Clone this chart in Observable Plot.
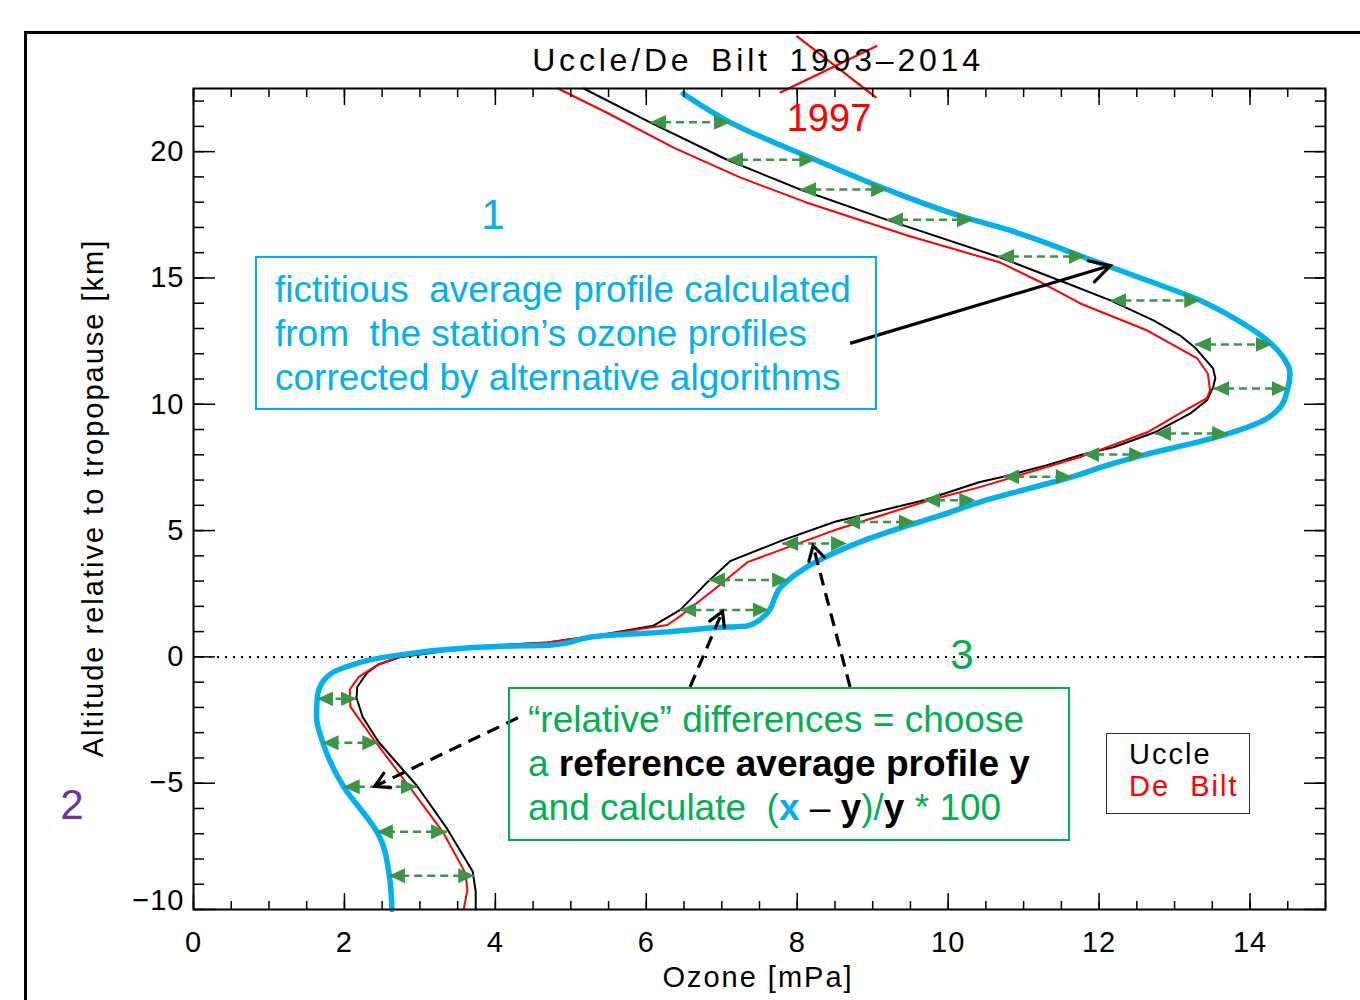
<!DOCTYPE html>
<html><head><meta charset="utf-8">
<script src="https://cdn.jsdelivr.net/npm/d3@7"></script>
<script src="https://cdn.jsdelivr.net/npm/@observablehq/plot@0.6"></script>
<style>
html,body{margin:0;padding:0;background:#fff;}
#wrap{position:relative;width:1360px;height:1000px;overflow:hidden;font-family:"Liberation Sans",Arial,sans-serif;}
#wrap svg{position:absolute;left:0;top:0;}
#wrap svg text{letter-spacing:1px;}
.abs{position:absolute;white-space:nowrap;}
.ctr{transform:translate(-50%,-50%);}
.idl{font-family:"Liberation Sans",Arial,sans-serif;font-size:29px;letter-spacing:2px;color:#000;}
.box{position:absolute;box-sizing:border-box;white-space:nowrap;font-family:"Liberation Sans",Arial,sans-serif;font-size:37px;line-height:44px;}
#outer{position:absolute;left:24px;top:31px;width:1400px;height:1000px;border-top:3px solid #000;border-left:3px solid #000;}
</style></head>
<body><div id="wrap"><div id="outer"></div></div>
<script>
// ---- data ----
const uccleAlt   = [-10, -9.3, -8.5, -6.8, -5.1, -4.35, -3.36, -2.37, -1.62, -1.19, -0.63, -0.3, 0, 0.2, 0.42, 0.47, 0.57, 0.87, 1.23, 1.86, 2.96, 3.79, 4.62, 5.35, 6.2, 6.92, 7.13, 7.59, 8.02, 8.3, 8.89, 9.64, 10.16, 10.67, 11.03, 11.42, 12.25, 12.73, 13.32, 14.11, 14.78, 15.81, 17.3, 18.5, 19.68, 21.16, 22.5];
const uccleOzone = [3.74, 3.74, 3.70, 3.36, 2.96, 2.74, 2.45, 2.24, 2.16, 2.17, 2.30, 2.45, 2.75, 3.27, 3.76, 4.07, 4.69, 5.39, 6.09, 6.45, 6.81, 7.11, 7.81, 8.5, 9.68, 10.42, 10.73, 11.31, 11.79, 12.19, 12.74, 13.21, 13.43, 13.51, 13.54, 13.51, 13.27, 13.07, 12.72, 12.15, 11.58, 10.69, 9.19, 8.04, 7.07, 6.05, 5.17];

const deBiltAlt   = [-10, -9.21, -8.54, -6.96, -5.18, -3.28, -1.98, -1.30, -0.79, -0.3, 0, 0.2, 0.45, 0.57, 0.87, 1.26, 1.66, 2.77, 3.75, 5.0, 6.2, 6.72, 7.91, 8.89, 9.64, 10.24, 10.55, 11.22, 11.82, 12.92, 13.99, 14.9, 15.61, 16.68, 17.98, 18.97, 20.16, 21.54, 22.5];
const deBiltOzone = [3.58, 3.63, 3.60, 3.31, 2.87, 2.39, 2.08, 2.07, 2.19, 2.45, 2.72, 3.2, 4.0, 4.69, 5.39, 6.28, 6.47, 6.94, 7.34, 8.48, 9.75, 10.42, 11.75, 12.64, 13.07, 13.43, 13.47, 13.44, 13.30, 12.64, 11.75, 11.18, 10.69, 9.46, 8.13, 7.25, 6.36, 5.48, 4.83];

const fictAlt   = [-10, -8.54, -6.92, -6.52, -5.14, -3.36, -2.37, -1.62, -0.91, -0.43, 0.08, 0.3, 0.42, 0.47, 0.83, 0.99, 1.15, 1.23, 1.58, 2.85, 3.56, 4.1, 4.66, 5.1, 5.6, 6.13, 6.68, 7.13, 7.66, 8.01, 8.46, 8.84, 9.29, 9.88, 10.62, 11.22, 11.86, 12.37, 13.44, 14.11, 14.9, 15.81, 17.0, 17.3, 18.5, 19.68, 21.16, 22.29];
const fictOzone = [2.63, 2.59, 2.43, 2.34, 1.99, 1.71, 1.63, 1.64, 1.73, 1.99, 2.74, 3.4, 4.1, 4.75, 5.39, 6.28, 6.89, 7.34, 7.55, 7.81, 8.13, 8.48, 8.93, 9.36, 9.9, 10.42, 11.09, 11.64, 12.19, 12.61, 13.25, 13.71, 14.13, 14.40, 14.50, 14.53, 14.44, 14.29, 13.77, 13.34, 12.64, 11.81, 10.69, 10.33, 9.19, 8.24, 7.11, 6.49];

// green double arrows between the Uccle profile and the fictitious profile
const diffAlt  = [21.16, 19.68, 18.50, 17.30, 15.85, 14.11, 12.37, 10.62, 8.84, 8.01, 7.13, 6.2, 5.34, 4.49, 3.04, 1.86, -1.66, -3.40, -5.14, -6.92, -8.66];
const diffFrom = [6.05, 7.07, 8.04, 9.19, 10.66, 12.15, 13.27, 13.51, 12.74, 11.79, 10.73, 9.68, 8.62, 7.80, 6.83, 6.45, 2.16, 2.45, 2.96, 3.36, 3.72];
const diffTo   = [7.11, 8.24, 9.19, 10.33, 11.81, 13.34, 14.29, 14.50, 13.71, 12.61, 11.64, 10.36, 9.56, 8.66, 7.88, 7.62, 1.64, 1.71, 1.99, 2.43, 2.59];

// ticks
const xMajor = [0, 2, 4, 6, 8, 10, 12, 14];
const xMinor = d3.range(0, 15.01, 0.5);
const yMajor = [-10, -5, 0, 5, 10, 15, 20];
const yMinor = d3.range(-10, 22.01, 1);
const yLabelsMain = [-5, 0, 5, 10, 15, 20];
const yLabelsBottom = [-10];

// annotation pointers (data coordinates)
const dashedPointers = [
  {x1: 6.58, y1: -1.19, x2: 7.01, y2: 1.80},
  {x1: 8.70, y1: -1.19, x2: 8.21, y2: 4.40},
  {x1: 4.30, y1: -2.41, x2: 2.40, y2: -5.13}
];
const solidPointer = [{x1: 8.70, y1: 12.41, x2: 12.15, y2: 15.49}];
const crossOut = [
  {x1: 7.99, y1: 24.58, x2: 9.05, y2: 22.13},
  {x1: 7.77, y1: 22.33, x2: 9.06, y2: 24.19}
];

// ---- build ----
const toRows = (alt, oz) => alt.map((h, i) => ({h, o: oz[i]}));
const uccle = toRows(uccleAlt, uccleOzone);
const deBilt = toRows(deBiltAlt, deBiltOzone);
const fict = toRows(fictAlt, fictOzone);
const diffs = diffAlt.map((h, i) => ({h, a: diffFrom[i], b: diffTo[i]}));

const GREEN = "#3a9545";
const BLUE = "#00b0f0";
const blank = () => "";

const chart = Plot.plot({
  width: 1360, height: 1000,
  marginLeft: 193, marginRight: 35, marginTop: 88, marginBottom: 91,
  x: {domain: [0, 15], axis: null},
  y: {domain: [-10, 22.5], axis: null},
  style: {fontFamily: "Liberation Sans, Arial, sans-serif", fontSize: "29px", background: "transparent", overflow: "visible"},
  marks: [
    Plot.ruleY([0], {stroke: "#000", strokeWidth: 2, strokeDasharray: "2,6"}),
    Plot.line(uccle, {x: "o", y: "h", stroke: "#000", strokeWidth: 2}),
    Plot.line(deBilt, {x: "o", y: "h", stroke: "#ff0000", strokeWidth: 2}),
    Plot.line(fict, {x: "o", y: "h", stroke: BLUE, strokeWidth: 5.5, curve: "monotone-y"}),
    Plot.link(diffs, {x1: "a", x2: "b", y1: "h", y2: "h", stroke: GREEN, strokeWidth: 2.5, strokeDasharray: "8,5"}),
    Plot.link(dashedPointers, {x1: "x1", y1: "y1", x2: "x2", y2: "y2", stroke: "#000", strokeWidth: 3.2, strokeDasharray: "13,8"}),
    Plot.link(solidPointer, {x1: "x1", y1: "y1", x2: "x2", y2: "y2", stroke: "#000", strokeWidth: 3.2}),
    Plot.link(crossOut, {x1: "x1", y1: "y1", x2: "x2", y2: "y2", stroke: "#ff0000", strokeWidth: 2.2}),
    Plot.frame({stroke: "#000", strokeWidth: 2}),
    Plot.axisX(xMajor, {anchor: "bottom", tickSize: -16, tickFormat: blank, strokeWidth: 1.5, label: null}),
    Plot.axisX(xMinor, {anchor: "bottom", tickSize: -8, tickFormat: blank, strokeWidth: 1.5, label: null}),
    Plot.axisX(xMajor, {anchor: "top", tickSize: -16, tickFormat: blank, strokeWidth: 1.5, label: null}),
    Plot.axisX(xMinor, {anchor: "top", tickSize: -8, tickFormat: blank, strokeWidth: 1.5, label: null}),
    Plot.axisY(yMajor, {anchor: "left", tickSize: -22, tickFormat: blank, strokeWidth: 1.5, label: null}),
    Plot.axisY(yMinor, {anchor: "left", tickSize: -11, tickFormat: blank, strokeWidth: 1.5, label: null}),
    Plot.axisY(yMajor, {anchor: "right", tickSize: -22, tickFormat: blank, strokeWidth: 1.5, label: null}),
    Plot.axisY(yMinor, {anchor: "right", tickSize: -11, tickFormat: blank, strokeWidth: 1.5, label: null}),
    Plot.axisX(xMajor, {anchor: "bottom", tickSize: 0, tickPadding: 22, fontSize: 29, fill: "#000", label: null}),
    Plot.axisY(yLabelsMain, {anchor: "left", tickSize: 0, tickPadding: 9, fontSize: 29, fill: "#000", label: null}),
    Plot.axisY(yLabelsBottom, {anchor: "left", tickSize: 0, tickPadding: 9, fontSize: 29, fill: "#000", label: null, dy: -9})
  ]
});

const wrap = document.getElementById("wrap");
wrap.insertBefore(chart, wrap.firstChild);

// markers: filled green triangles and open black arrowheads
const svg = d3.select(chart);
const defs = svg.insert("defs", ":first-child");
defs.append("marker").attr("id", "gtri").attr("viewBox", "0 -8 16 16").attr("refX", 16).attr("refY", 0)
  .attr("markerWidth", 16).attr("markerHeight", 16).attr("markerUnits", "userSpaceOnUse").attr("orient", "auto-start-reverse")
  .append("path").attr("d", "M0,-7.5L16,0L0,7.5Z").attr("fill", GREEN);
function head(id, len, half) {
  defs.append("marker").attr("id", id).attr("viewBox", `${-len - 4} ${-half - 4} ${len + 10} ${2 * half + 8}`)
    .attr("refX", 0).attr("refY", 0).attr("markerWidth", len + 10).attr("markerHeight", 2 * half + 8)
    .attr("markerUnits", "userSpaceOnUse").attr("orient", "auto").style("overflow", "visible")
    .append("path").attr("d", `M${-len},${-half}L0,0L${-len},${half}`)
    .attr("fill", "none").attr("stroke", "#000").attr("stroke-width", 3.2).attr("stroke-linecap", "round");
}
head("bsmall", 14, 8);
head("blarge", 20, 11);
const links = svg.selectAll('g[aria-label="link"]').nodes();
d3.select(links[0]).selectAll("path").attr("marker-start", "url(#gtri)").attr("marker-end", "url(#gtri)");
d3.select(links[1]).selectAll("path").attr("marker-end", "url(#bsmall)");
d3.select(links[2]).selectAll("path").attr("marker-end", "url(#blarge)");

// ---- text annotations ----
const html = `
<div class="abs idl ctr" style="left:758px;top:60px;font-size:32px;letter-spacing:3.8px;word-spacing:6px">Uccle/De Bilt 1993–2014</div>
<div class="abs ctr" style="left:829px;top:118px;font-size:38px;color:#ff0000">1997</div>
<div class="abs ctr" style="left:493px;top:215px;font-size:42px;color:${BLUE}">1</div>
<div class="abs ctr" style="left:72px;top:805px;font-size:42px;color:#7030a0">2</div>
<div class="abs ctr" style="left:962px;top:655px;font-size:42px;color:#00b050">3</div>
<div class="box" style="left:255px;top:256px;width:622px;height:154px;border:2px solid ${BLUE};padding:10px 0 0 18px;color:${BLUE}">fictitious&nbsp; average profile calculated<br>from&nbsp; the station’s ozone profiles<br>corrected by alternative algorithms</div>
<div class="box" style="left:508px;top:687px;width:562px;height:154px;border:2px solid #00b050;padding:9px 0 0 18px;color:#00b050">“relative” differences = choose<br>a <b style="color:#000">reference average profile y</b><br>and calculate&nbsp; (<b style="color:${BLUE}">x</b><span style="color:#000"> – </span><b style="color:#000">y</b>)/<b style="color:#000">y</b> * 100</div>
<div class="box idl" style="left:1106px;top:733px;width:144px;height:81px;border:1.5px solid #333;padding:4px 0 0 22px;font-size:29px;line-height:32px">Uccle<br><span style="color:#ff0000">De&nbsp; Bilt</span></div>
<div class="abs idl ctr" style="left:758px;top:977px">Ozone [mPa]</div>
<div class="abs idl" style="left:93px;top:498px;transform:translate(-50%,-50%) rotate(-90deg)">Altitude relative to tropopause [km]</div>
`;
wrap.insertAdjacentHTML("beforeend", html);
</script></body></html>
